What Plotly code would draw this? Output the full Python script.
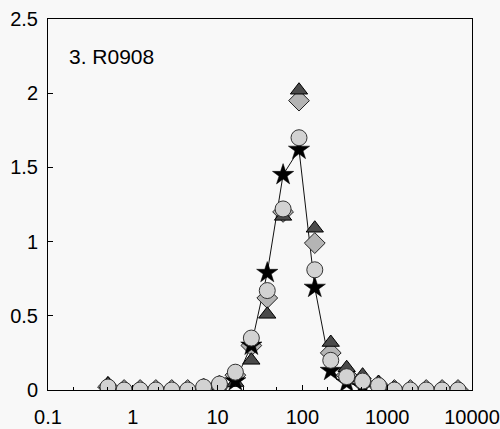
import plotly.graph_objects as go

# particle size classes (x, log axis)
size_x = [0.51, 0.79, 1.22, 1.87, 2.88, 4.44, 6.84, 10.5, 16.2, 25.0, 38.5, 59.2,
          91.2, 140, 216, 333, 513, 790, 1216, 1873, 2884, 4440, 6840]

circles = [0.02, 0.0, 0.0, 0.0, 0.0, 0.0, 0.02, 0.04, 0.12, 0.35, 0.67, 1.22,
           1.70, 0.81, 0.20, 0.09, 0.06, 0.03, 0.0, 0.0, 0.0, 0.0, 0.0]
triangles = [0.04, 0.0, 0.0, 0.0, 0.0, 0.0, 0.0, 0.01, 0.05, 0.20, 0.51, 1.17,
             2.02, 1.09, 0.32, 0.15, 0.10, 0.05, 0.01, -0.01, -0.01, -0.01, -0.01]
diamonds = [0.02, 0.0, 0.0, 0.0, 0.0, 0.0, 0.01, 0.03, 0.10, 0.30, 0.62, 1.20,
            1.95, 0.99, 0.25, 0.10, 0.05, 0.03, 0.0, 0.0, 0.0, 0.0, 0.0]
stars = [None, None, None, None, None, None, None, None, 0.06, 0.30, 0.79, 1.45,
         1.62, 0.69, 0.13, 0.05, 0.02, None, None, None, None, None, None]

x_tickvals = [0.1, 1, 10, 100, 1000, 10000]
x_ticktext = ["0.1", "1", "10", "100", "1000", "10000"]
y_tickvals = [0, 0.5, 1, 1.5, 2, 2.5]
y_ticktext = ["0", "0.5", "1", "1.5", "2", "2.5"]
label = "3. R0908"

fig = go.Figure()
# connecting line
fig.add_trace(go.Scatter(x=size_x, y=stars, mode="lines",
                         line=dict(color="#111111", width=1), hoverinfo="skip"))
fig.add_trace(go.Scatter(x=size_x, y=diamonds, mode="markers",
                         marker=dict(symbol="diamond", size=16, color="#b4b4b4",
                                     line=dict(color="#222222", width=1))))
fig.add_trace(go.Scatter(x=size_x, y=triangles, mode="markers",
                         marker=dict(symbol="triangle-up", size=15, color="#4a4a4a",
                                     line=dict(color="#000000", width=1))))
fig.add_trace(go.Scatter(x=size_x, y=stars, mode="markers",
                         marker=dict(symbol="star", size=16, color="#000000",
                                     line=dict(color="#000000", width=0.5))))
fig.add_trace(go.Scatter(x=size_x, y=circles, mode="markers",
                         marker=dict(symbol="circle", size=16, color="#d2d2d2",
                                     line=dict(color="#333333", width=1))))

fig.add_annotation(x=0.045, y=0.898, xref="paper", yref="paper", text=label,
                   showarrow=False, xanchor="left", yanchor="middle",
                   font=dict(size=21, color="#000000"))

axis_common = dict(showline=True, linecolor="#000000", linewidth=1, mirror=True,
                   ticks="inside", ticklen=5, tickcolor="#000000", showgrid=False,
                   zeroline=False, tickfont=dict(size=20, color="#000000"))

fig.update_xaxes(type="log", range=[-1, 4], tickvals=x_tickvals, ticktext=x_ticktext,
                 ticklabelstandoff=9,
                 minor=dict(ticks="inside", ticklen=3, tickcolor="#000000", showgrid=False),
                 **axis_common)
fig.update_yaxes(range=[0, 2.5], tickvals=y_tickvals, ticktext=y_ticktext,
                 ticklabelstandoff=5, **axis_common)

fig.update_layout(width=500, height=429, showlegend=False,
                  margin=dict(l=48, r=28, t=19, b=39, autoexpand=False),
                  paper_bgcolor="#f8f8f8", plot_bgcolor="#f8f8f8",
                  font=dict(family="Liberation Sans, Arial, sans-serif", color="#000000"))

fig.write_html("out.html", config={"displayModeBar": False},
               post_script="document.body.style.margin='0px';")
